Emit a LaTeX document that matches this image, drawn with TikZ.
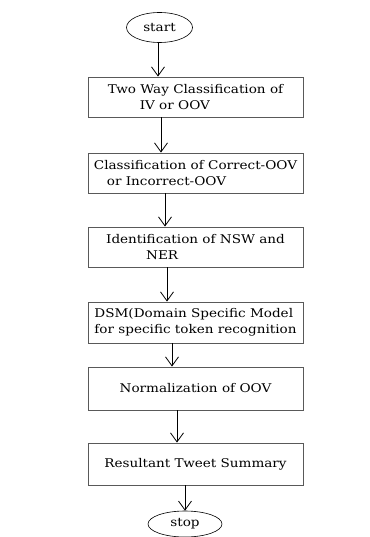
\documentclass[tikz,border=0pt]{standalone}
\usepackage{fontspec}
\setmainfont{DejaVu Serif}[FakeStretch=1.13]
\usetikzlibrary{shapes.geometric,arrows.meta}

\begin{document}
\begin{tikzpicture}[x=1pt,y=-1pt,
        stage/.style={draw=black!65,line width=0.9pt,minimum width=215pt,inner sep=0pt,align=left,font=\fontsize{12}{16}\selectfont},
        term/.style={draw,ellipse,line width=0.6pt,inner sep=0pt,font=\fontsize{12}{13}\selectfont},
        flow/.style={line width=0.8pt,-{Straight Barb[length=9pt,width=13pt,line width=0.8pt]}}]
    \useasboundingbox (0,0) rectangle (369,537);
    % terminals
    \node[term,minimum width=66pt,minimum height=30pt] (start) at (159.5,27.5) {start};
    \node[term,minimum width=74pt,minimum height=26pt] (stop) at (185,524) {stop};
    % processing stages, top to bottom
    \node[stage,minimum height=40pt] (two) at (195.5,97) {Two Way Classification of\\\hspace*{32pt}IV or OOV};
    \node[stage,minimum height=40pt] (cls) at (195.5,173) {Classification of Correct-OOV\\\hspace*{13pt}or Incorrect-OOV};
    \node[stage,minimum height=40pt] (nsw) at (195.5,247) {Identification of NSW and\\\hspace*{40pt}NER};
    \node[stage,minimum height=41pt] (dsm) at (195.5,322.5) {DSM(Domain Specific Model\\for specific token recognition};
    \node[stage,minimum height=43pt] (norm) at (195.5,388.5) {Normalization of OOV};
    \node[stage,minimum height=42pt] (res) at (195.5,464) {Resultant Tweet Summary};
    % arrows, each a little further right
    \foreach \from/\to/\x in {start/two/158, two/cls/161, cls/nsw/165, nsw/dsm/167, dsm/norm/172, norm/res/177, res/stop/185} {
        \coordinate (a-\from) at (\x,0);
        \draw[flow] (\from.south -| a-\from) -- (\to.north -| a-\from);
    }
\end{tikzpicture}
\end{document}
